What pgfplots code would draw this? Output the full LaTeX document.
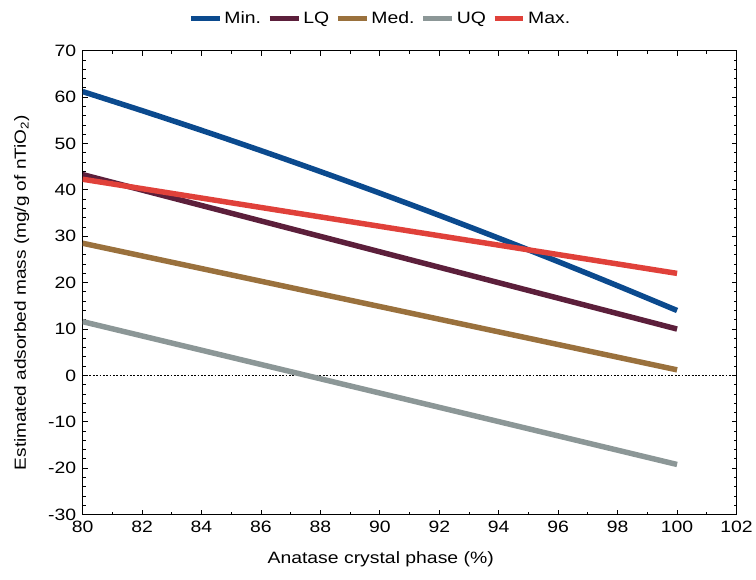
\documentclass[border=0pt]{standalone}
\usepackage{fontspec}
\setmainfont{Liberation Sans}[FakeStretch=1.18]
\usepackage{pgfplots}
\pgfplotsset{compat=1.18}
\definecolor{cmin}{HTML}{0B4A8E}
\definecolor{clq}{HTML}{5C1F3B}
\definecolor{cmed}{HTML}{9A713D}
\definecolor{cuq}{HTML}{8C9797}
\definecolor{cmax}{HTML}{E0413A}
\begin{document}
\begin{tikzpicture}[font=\fontsize{16.5}{19}\selectfont]
\begin{axis}[
  name=ax,
  scale only axis,
  width=657pt, height=466pt,
  xmin=80, xmax=102, ymin=-30, ymax=70,
  xtick={80,82,...,102}, ytick={-30,-20,...,70},
  minor x tick num=1, minor y tick num=4,
  tick align=inside,
  major tick length=5pt, minor tick length=3pt,
  axis line style={line width=1.2pt},
  every tick/.style={black, line width=0.9pt},
  /pgf/number format/assume math mode=true,
  tick label style={font=\fontsize{16.5}{19}\selectfont},
  xticklabel style={yshift=-3pt},
  yticklabel style={xshift=-3pt},
  xlabel={Anatase crystal phase (\%)},
  ylabel={Estimated adsorbed mass (mg/g of nTiO\textsubscript{2})},
  xlabel style={font=\fontsize{16.5}{19}\selectfont, yshift=-12pt, xshift=-29pt},
  ylabel style={font=\fontsize{16.2}{19}\selectfont, yshift=12pt, xshift=-10pt},
  legend style={at={(0.455,1.05)}, anchor=south, draw=none, fill=none,
    legend columns=-1, font=\fontsize{16.5}{19}\selectfont,
    /tikz/every even column/.append style={column sep=4pt},
    /tikz/every odd column/.append style={column sep=0pt},
    inner sep=0pt},
  legend image code/.code={\draw[#1, line width=5.5pt] (0pt,0pt) -- (29pt,0pt);},
]
\addplot[black, line width=1.8pt, dash pattern=on 1.8pt off 1.6pt, forget plot] coordinates {(80,0) (102,0)};
\addplot[cmin, line width=5.5pt, smooth] coordinates {
(80,61.2) (82,57.09) (84,52.85) (86,48.47) (88,43.95) (90,39.3)
(92,34.51) (94,29.59) (96,24.53) (98,19.33) (100,14.0)};
\addlegendentry{Min.}
\addplot[clq, line width=5.5pt] coordinates {(80,43.3) (100,10.0)};
\addlegendentry{LQ}
\addplot[cmed, line width=5.5pt] coordinates {(80,28.5) (100,1.2)};
\addlegendentry{Med.}
\addplot[cuq, line width=5.5pt] coordinates {(80,11.6) (100,-19.2)};
\addlegendentry{UQ}
\addplot[cmax, line width=5.5pt] coordinates {(80,42.3) (100,22.0)};
\addlegendentry{Max.}
\end{axis}
\path ([xshift=-83pt,yshift=-65pt]ax.south west) rectangle ([xshift=16pt,yshift=51pt]ax.north east);
\end{tikzpicture}
\end{document}
